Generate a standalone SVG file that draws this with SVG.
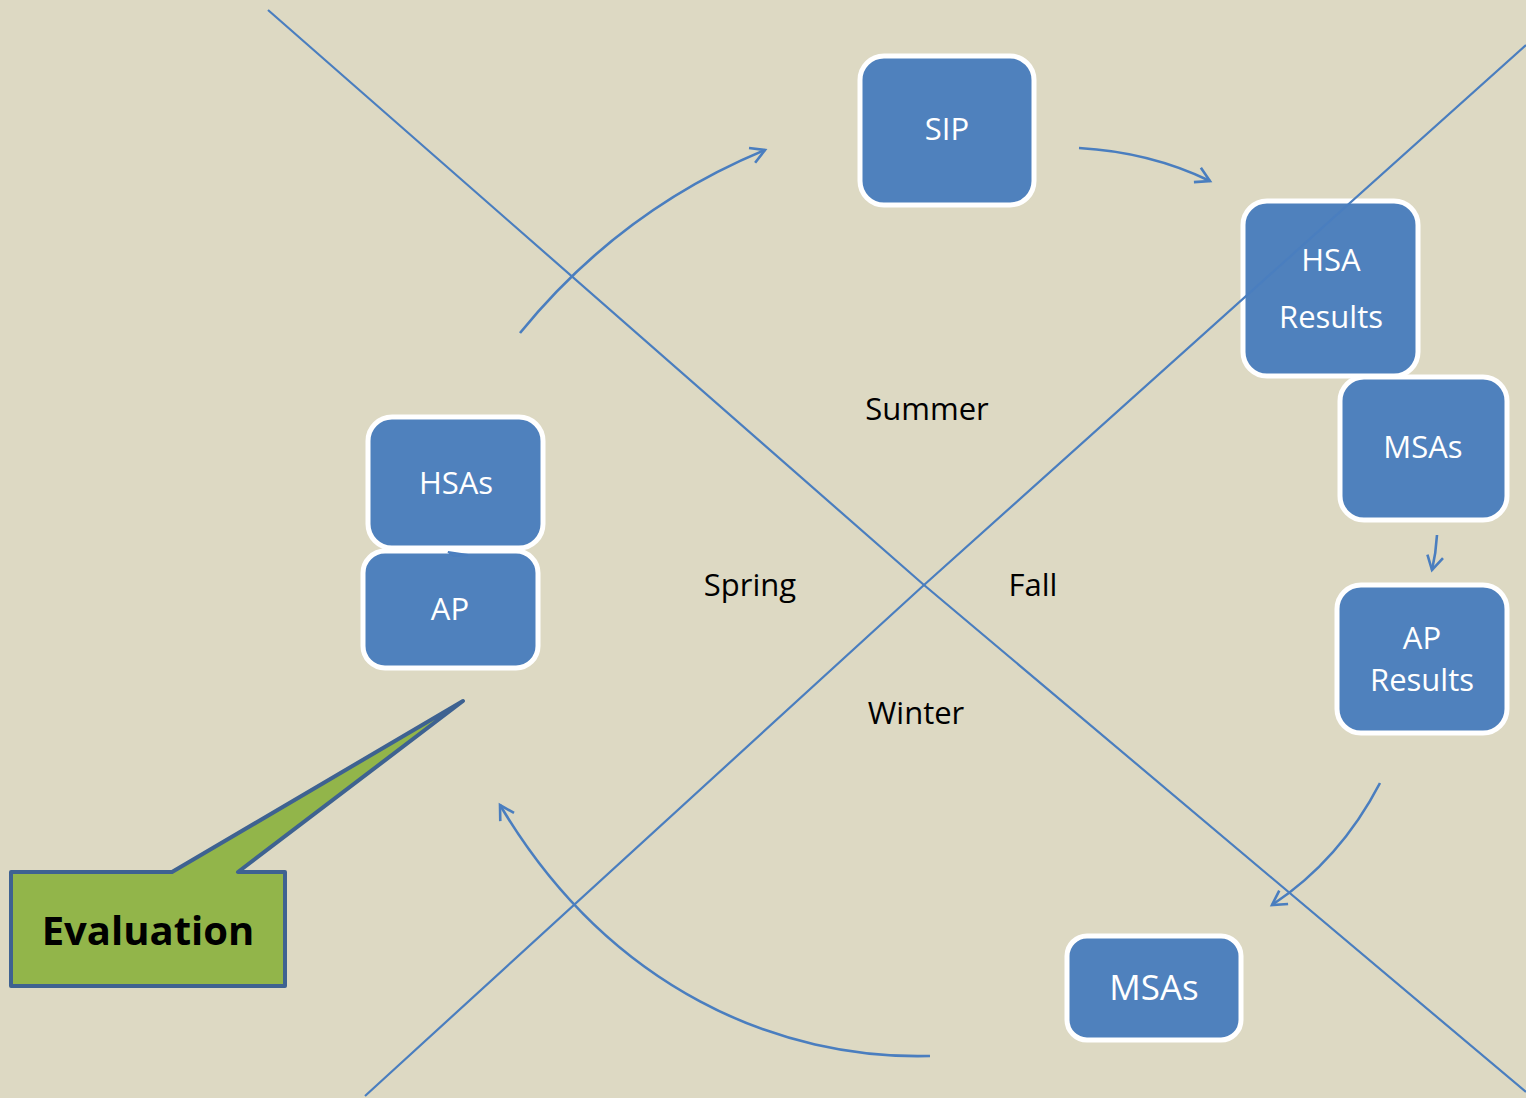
<svg xmlns="http://www.w3.org/2000/svg" width="1526" height="1098" viewBox="0 0 1526 1098">
<style>
.box{fill:#4F81BD;stroke:#FFFFFF;stroke-width:5}
.bt{fill:#FFFFFF;font-family:"Open Sans","Liberation Sans",sans-serif;font-size:31px;text-anchor:middle}
.lbl{fill:#000000;font-family:"Open Sans","Liberation Sans",sans-serif;font-size:31px;text-anchor:middle}
.ln{stroke:#4A7EBF;stroke-width:2.2;fill:none}
.arr{stroke:#4A7EBF;stroke-width:2.6;fill:none;marker-end:url(#ah)}
</style>
<defs>
<marker id="ah" viewBox="0 0 20 20" refX="17" refY="10" markerWidth="20" markerHeight="20" markerUnits="userSpaceOnUse" orient="auto">
<path d="M3,2 L17,10 L3,18" fill="none" stroke="#4A7EBF" stroke-width="2.6"/>
</marker>
</defs>
<rect width="1526" height="1098" fill="#DDD9C3"/>
<g id="nodes">
<g id="sip"><rect class="box" x="860" y="56" width="174" height="149" rx="24"/><text class="bt" x="947" y="140">SIP</text></g>
<g id="hsa-results"><rect class="box" x="1243" y="201" width="175" height="175" rx="24"/><text class="bt" x="1331" y="271">HSA</text><text class="bt" x="1331" y="328">Results</text></g>
<g id="msas-right"><rect class="box" x="1340" y="377" width="167" height="143" rx="24"/><text class="bt" x="1423" y="458">MSAs</text></g>
<g id="ap-results"><rect class="box" x="1337" y="585" width="170" height="148" rx="24"/><text class="bt" x="1422" y="649">AP</text><text class="bt" x="1422" y="691">Results</text></g>
<g id="msas-bottom"><rect class="box" x="1067" y="936" width="174" height="104" rx="20"/><text class="bt" x="1154" y="1000" style="font-size:35px">MSAs</text></g>
<g id="hsas"><rect class="box" x="368" y="417" width="175" height="131" rx="24"/><text class="bt" x="456" y="494">HSAs</text></g>
<g id="ap"><rect class="box" x="363" y="551" width="175" height="117" rx="22"/><text class="bt" x="450" y="620">AP</text></g>
</g>
<g id="dividers">
<polyline class="ln" points="268,10 924,585 1526,1092"/>
<polyline class="ln" points="365,1096 924,585 1526,45"/>
</g>
<g id="connectors">
<path class="arr" d="M520,333 Q620,210 765,150"/>
<path class="arr" d="M1079,148 Q1150,152 1210,181"/>
<path class="arr" d="M1437,535 Q1436,553 1432,570"/>
<path class="arr" d="M1380,783 Q1340,860 1272,905"/>
<path class="arr" d="M930,1056 C780,1060 610,990 500,805"/>
<path d="M448,552 L468,555 L454,556 Z" fill="none" stroke="#4A7EBF" stroke-width="1.8"/>
</g>
<g id="season-labels">
<text class="lbl" x="927" y="420">Summer</text>
<text class="lbl" x="750" y="596">Spring</text>
<text class="lbl" x="1033" y="596">Fall</text>
<text class="lbl" x="916" y="724">Winter</text>
</g>
<g id="evaluation">
<path d="M11,872 L172,872 L463,701 L238,872 L285,872 L285,986 L11,986 Z" fill="#92B54A" stroke="#3E6291" stroke-width="4" stroke-linejoin="round"/>
<text x="148" y="945" fill="#000000" font-family="'Open Sans','Liberation Sans',sans-serif" font-size="40" font-weight="bold" text-anchor="middle">Evaluation</text>
</g>
</svg>
